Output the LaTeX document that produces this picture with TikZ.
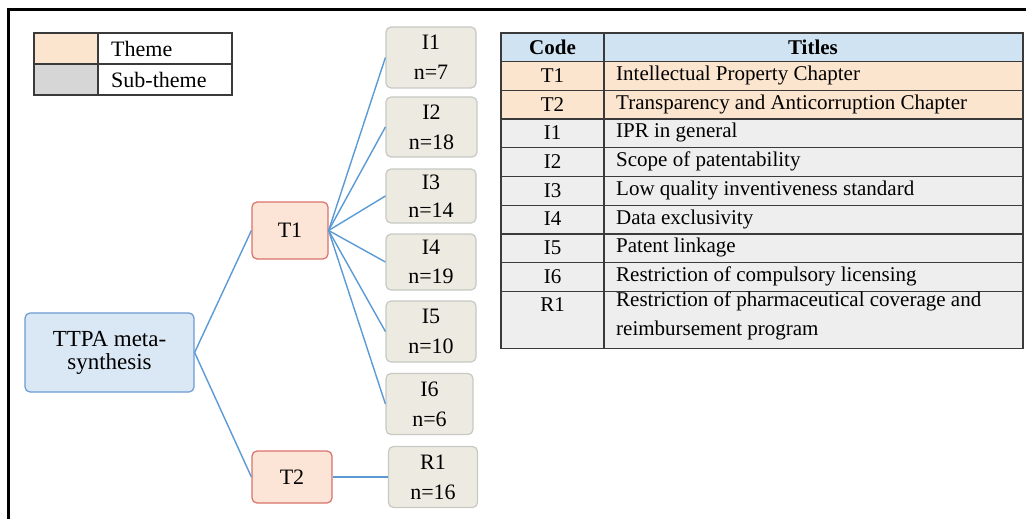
\documentclass[tikz,border=0pt]{standalone}
\usepackage{fontspec}
\setmainfont{Liberation Serif}
\begin{document}
\begin{tikzpicture}[x=1pt,y=-1pt,
  every node/.style={font=\fontsize{21}{24}\selectfont},
  base/.style={rectangle,rounded corners=5pt,inner sep=0pt,align=center,line width=1.2pt},
  rootbox/.style={base,fill=rootfill,draw=rootdraw},
  themebox/.style={base,fill=themefill,draw=themedraw,font=\fontsize{22}{24}\selectfont},
  subbox/.style={base,fill=subfill,draw=subdraw,font=\fontsize{22}{30}\selectfont},
  link/.style={draw=linkblue,line width=1.4pt},
  grid/.style={draw=gridgray,line width=1.3pt},
  celltext/.style={inner sep=0pt,anchor=west},
  codetext/.style={inner sep=0pt}
]
\definecolor{rootfill}{HTML}{DAE7F5}
\definecolor{rootdraw}{HTML}{6B9BD2}
\definecolor{themefill}{HTML}{FCE4D6}
\definecolor{themedraw}{HTML}{D9736C}
\definecolor{subfill}{HTML}{EDEBE1}
\definecolor{subdraw}{HTML}{C8C8C4}
\definecolor{linkblue}{HTML}{5B9BD5}
\definecolor{gridgray}{HTML}{3A3A3A}
\definecolor{headfill}{HTML}{D0E3F3}
\definecolor{peach}{HTML}{FCE5CE}
\definecolor{rowgray}{HTML}{EEEEEE}
\definecolor{leggray}{HTML}{D6D6D6}

\useasboundingbox (0,0) rectangle (1026,519);
\fill[white] (0,0) rectangle (1026,519);

% outer frame (top and left)
\draw[line width=3pt] (8,519) -- (8,10) -- (1026,10);

% legend
\fill[peach] (34,33) rectangle (98,64);
\fill[leggray] (34,64) rectangle (98,95);
\draw[grid] (34,33) rectangle (232,95);
\draw[grid] (34,64) -- (232,64);
\draw[grid] (98,33) -- (98,95);
\node[celltext,font=\fontsize{22}{24}\selectfont] (lt) at (111,49) {Theme};
\node[celltext,font=\fontsize{22}{24}\selectfont] (ls) at (111,80) {Sub-theme};

% tree nodes
\node[rootbox,minimum width=169pt,minimum height=79pt,font=\fontsize{23}{23}\selectfont] (root) at (109.5,352.5) {TTPA meta-\\synthesis};
\node[themebox,minimum width=76pt,minimum height=57pt] (t1) at (290,230.5) {T1};
\node[themebox,minimum width=80pt,minimum height=52pt] (t2) at (292,477) {T2};
\node[subbox,minimum width=90pt,minimum height=61pt] (i1) at (431,57.5) {I1\\n=7};
\node[subbox,minimum width=91pt,minimum height=60pt] (i2) at (431.5,127) {I2\\n=18};
\node[subbox,minimum width=90pt,minimum height=54pt,font=\fontsize{22}{28}\selectfont] (i3) at (431,196) {I3\\n=14};
\node[subbox,minimum width=90pt,minimum height=56pt,font=\fontsize{22}{29}\selectfont] (i4) at (431,262) {I4\\n=19};
\node[subbox,minimum width=90pt,minimum height=61pt] (i5) at (431,331.5) {I5\\n=10};
\node[subbox,minimum width=87pt,minimum height=61pt] (i6) at (429.5,404) {I6\\n=6};
\node[subbox,minimum width=89pt,minimum height=61pt] (r1) at (433,477) {R1\\n=16};

% connectors
\draw[link] (root.east) -- (t1.west);
\draw[link] (root.east) -- (t2.west);
\foreach \n in {i1,i2,i3,i4,i5,i6}{
  \draw[link] (t1.east) -- (\n.west);
}
\draw[link] (t2.east) -- (r1.west);

% code table
\fill[headfill] (501,33) rectangle (1023,61.7);
\fill[peach] (501,61.7) rectangle (1023,119.1);
\fill[rowgray] (501,119.1) rectangle (1023,348.7);
\draw[grid] (501,33) rectangle (1023,348.7);
\foreach \yy in {61.7,90.4,119.1,147.8,176.5,205.2,233.9,262.6,291.3}{
  \draw[grid] (501,\yy) -- (1023,\yy);
}
\draw[grid] (604,33) -- (604,348.7);

\node[codetext,font=\fontsize{21}{24}\selectfont\bfseries] (hc) at (552.5,47) {Code};
\node[codetext,font=\fontsize{21}{24}\selectfont\bfseries] (ht) at (813,47) {Titles};

\node[codetext] (c1) at (552.5,75.5) {T1};
\node[celltext] (d1) at (616,75.5) {Intellectual Property Chapter};
\node[codetext] (c2) at (552.5,104.2) {T2};
\node[celltext] (d2) at (616,104.2) {Transparency and Anticorruption Chapter};
\node[codetext] (c3) at (552.5,132.9) {I1};
\node[celltext] (d3) at (616,132.9) {IPR in general};
\node[codetext] (c4) at (552.5,161.6) {I2};
\node[celltext] (d4) at (616,161.6) {Scope of patentability};
\node[codetext] (c5) at (552.5,190.3) {I3};
\node[celltext] (d5) at (616,190.3) {Low quality inventiveness standard};
\node[codetext] (c6) at (552.5,219) {I4};
\node[celltext] (d6) at (616,219) {Data exclusivity};
\node[codetext] (c7) at (552.5,247.7) {I5};
\node[celltext] (d7) at (616,247.7) {Patent linkage};
\node[codetext] (c8) at (552.5,276.4) {I6};
\node[celltext] (d8) at (616,276.4) {Restriction of compulsory licensing};
\node[codetext] (c9) at (552.5,305) {R1};
\node[celltext,align=left,anchor=north west,font=\fontsize{21}{28.5}\selectfont] (d9) at (616,292) {Restriction of pharmaceutical coverage and\\reimbursement program};
\end{tikzpicture}
\end{document}
